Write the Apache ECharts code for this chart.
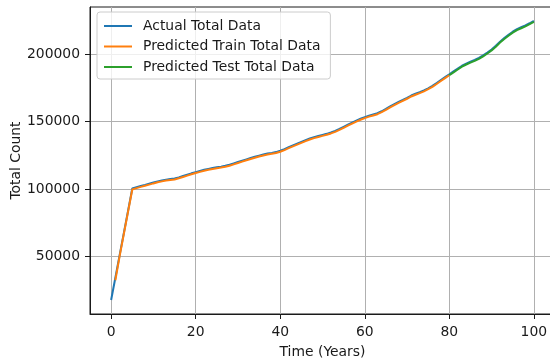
<!DOCTYPE html>
<html>
<head>
<meta charset="utf-8">
<script src="https://cdn.jsdelivr.net/npm/echarts@6/dist/echarts.min.js"></script>
<style>
  html, body { margin: 0; padding: 0; background: #fff; }
  #chart { width: 550px; height: 360px; }
</style>
</head>
<body>
<div id="chart"></div>
<script>
// Yearly totals, years 0..100
const years = [];
for (let i = 0; i <= 100; i++) years.push(i);

const actualTotal = [
  17300, 33900, 50500, 67100, 83700, 100300, 101300, 102200, 103000, 103900,
  104800, 105600, 106300, 106900, 107300, 107700, 108600, 109600, 110600, 111600,
  112500, 113400, 114200, 114900, 115500, 116100, 116600, 117200, 118000, 119000,
  120000, 121000, 122000, 123000, 123900, 124800, 125600, 126300, 126800, 127400,
  128400, 129600, 131000, 132400, 133700, 135000, 136300, 137500, 138500, 139400,
  140200, 141000, 142000, 143200, 144600, 146200, 147800, 149300, 150800, 152200,
  153400, 154500, 155400, 156300, 157800, 159500, 161400, 163100, 164700, 166200,
  167800, 169500, 170800, 172000, 173300, 174900, 176700, 178800, 181000, 183200,
  185300, 187500, 189600, 191700, 193300, 194700, 196000, 197500, 199400, 201500,
  203800, 206500, 209600, 212300, 214700, 217000, 218900, 220300, 221700, 223300,
  225000
];

// Model output on the training span (years 1..80)
const trainYears = years.slice(1, 81);
const predTrain = [
  32000, 49800, 66400, 83000, 99600, 100600, 101500, 102300, 103200, 104100,
  104900, 105600, 106200, 106600, 107000, 107900, 108900, 109900, 110900, 111800,
  112700, 113500, 114200, 114800, 115400, 115900, 116500, 117300, 118300, 119300,
  120300, 121300, 122300, 123200, 124100, 124900, 125600, 126100, 126700, 127700,
  128900, 130300, 131700, 133000, 134300, 135600, 136800, 137800, 138700, 139500,
  140300, 141300, 142500, 143900, 145500, 147100, 148600, 150100, 151500, 152700,
  153800, 154700, 155600, 157100, 158800, 160700, 162400, 164000, 165500, 167100,
  168800, 170100, 171300, 172600, 174200, 176000, 178100, 180300, 182500, 184600
];

// Model output on the test span (years 80..100)
const testYears = years.slice(80);
const predTest = [
  184700, 186800, 188900, 191000, 192600, 194000, 195300, 196800, 198700, 200800,
  203100, 205800, 208900, 211600, 214000, 216300, 218200, 219600, 221000, 222600,
  224300
];

const xTicks = [0, 20, 40, 60, 80, 100];
const yTicks = [50000, 100000, 150000, 200000];

const pairs = (xs, ys) => xs.map((x, i) => [x, ys[i]]);
const FONT = 'DejaVu Sans';
const FS = 13.9;
const INK = '#1a1a1a';
const plain = v => String(v);

const chart = echarts.init(document.getElementById('chart'), null, { renderer: 'canvas' });

const lineSeries = (name, data, color) => ({
  name,
  type: 'line',
  data,
  showSymbol: false,
  symbol: 'none',
  animation: false,
  lineStyle: { color, width: 2 },
  itemStyle: { color }
});

chart.setOption({
  animation: false,
  backgroundColor: '#fff',
  grid: {
    left: 90, top: 7, width: 465, height: 307,
    containLabel: false,
    outerBoundsMode: 'none',
    show: true, borderColor: INK, borderWidth: 1, backgroundColor: 'transparent'
  },
  legend: {
    orient: 'vertical',
    left: 97, top: 12,
    padding: [7, 10, 5, 7],
    itemWidth: 28, itemHeight: 2,
    itemGap: 6.5,
    icon: 'rect',
    backgroundColor: 'rgba(255,255,255,0.8)',
    borderColor: '#cccccc', borderWidth: 1, borderRadius: 3,
    textStyle: { fontFamily: FONT, fontSize: FS, color: INK, padding: [0, 0, 0, 6], lineHeight: 14 },
    data: ['Actual Total Data', 'Predicted Train Total Data', 'Predicted Test Total Data']
  },
  xAxis: {
    type: 'value',
    min: -5, max: 105,
    name: 'Time (Years)',
    nameLocation: 'middle',
    nameGap: 31,
    nameMoveOverlap: false,
    nameTextStyle: { fontFamily: FONT, fontSize: FS, color: INK },
    axisLine: { show: true, onZero: false, lineStyle: { color: INK, width: 1 } },
    axisTick: { show: true, length: 5, lineStyle: { color: INK, width: 1 }, customValues: xTicks },
    axisLabel: { fontFamily: FONT, fontSize: FS, color: INK, margin: 11, customValues: xTicks, formatter: plain },
    splitLine: { show: true, lineStyle: { color: '#b0b0b0', width: 1 } }
  },
  yAxis: {
    type: 'value',
    min: 6900, max: 235400,
    name: 'Total Count',
    nameLocation: 'middle',
    nameGap: 67,
    nameMoveOverlap: false,
    nameTextStyle: { fontFamily: FONT, fontSize: FS, color: INK },
    axisLine: { show: true, onZero: false, lineStyle: { color: INK, width: 1 } },
    axisTick: { show: true, length: 5, lineStyle: { color: INK, width: 1 }, customValues: yTicks },
    axisLabel: { fontFamily: FONT, fontSize: FS, color: INK, margin: 10, customValues: yTicks, formatter: plain },
    splitLine: { show: true, lineStyle: { color: '#b0b0b0', width: 1 } }
  },
  series: [
    lineSeries('Actual Total Data', pairs(years, actualTotal), '#1f77b4'),
    lineSeries('Predicted Train Total Data', pairs(trainYears, predTrain), '#ff7f0e'),
    lineSeries('Predicted Test Total Data', pairs(testYears, predTest), '#2ca02c')
  ]
});
</script>
</body>
</html>
